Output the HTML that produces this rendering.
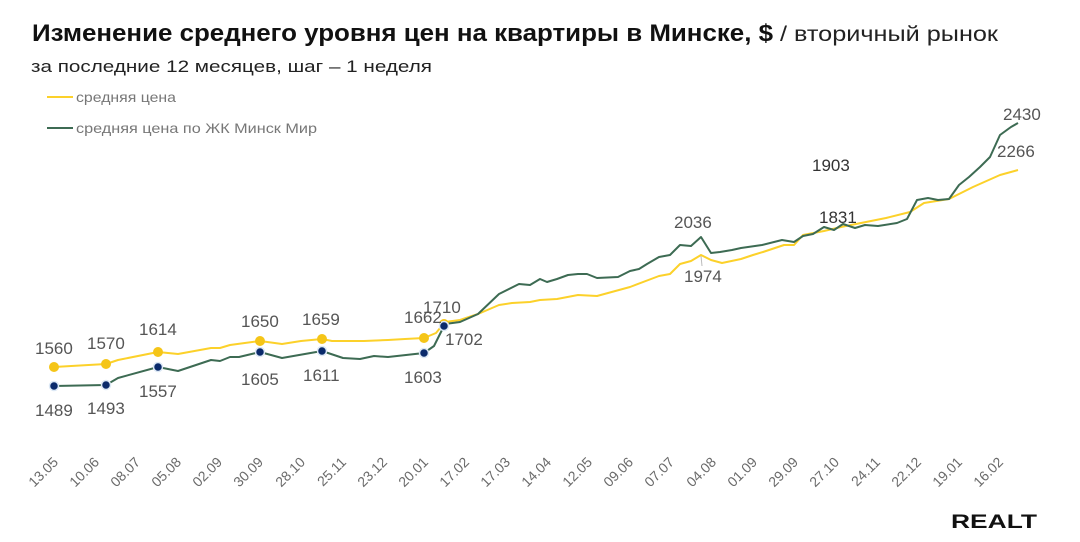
<!DOCTYPE html>
<html><head><meta charset="utf-8"><style>
html,body{margin:0;padding:0;background:#fff}
svg{display:block;font-family:"Liberation Sans","DejaVu Sans",sans-serif}
</style></head><body>
<svg width="1080" height="542" viewBox="0 0 1080 542" xmlns="http://www.w3.org/2000/svg">
<text x="32" y="41" font-size="24" font-weight="bold" fill="#111" textLength="741" lengthAdjust="spacingAndGlyphs">Изменение среднего уровня цен на квартиры в Минске, $</text>
<text x="780" y="41" font-size="21" fill="#222" textLength="218" lengthAdjust="spacingAndGlyphs">/ вторичный рынок</text>
<text x="31" y="72" font-size="17" fill="#222" textLength="401" lengthAdjust="spacingAndGlyphs">за последние 12 месяцев, шаг – 1 неделя</text>
<line x1="47" y1="97" x2="73" y2="97" stroke="#fcd12a" stroke-width="2"/>
<text x="76" y="102" font-size="14" fill="#777" textLength="100" lengthAdjust="spacingAndGlyphs">средняя цена</text>
<line x1="47" y1="128" x2="73" y2="128" stroke="#3d6b53" stroke-width="2"/>
<text x="76" y="133" font-size="14" fill="#777" textLength="241" lengthAdjust="spacingAndGlyphs">средняя цена по ЖК Минск Мир</text>

<polyline fill="none" stroke="#fcd12a" stroke-width="2" stroke-linejoin="round" points="54,367 106,364 118,360 158,352 178,354 211,348 220,348 230,345 260,341 282,344 301,341 322,339 332,341 353,341 364,341 388,340 405,339 424,338 436,333 445,322 460,320 478,314 499,305 512,303 530,302 540,300 557,299 578,295 597,296 630,287 659,276 670,274 680,264 691,261 701,255 711,260 722,263 741,259 753,255 763,252 784,245 794,245 803,235 824,231 841,227 886,218 910,212 924,203 949,199 973,187 1000,175 1018,170"/>
<polyline fill="none" stroke="#3d6b53" stroke-width="2" stroke-linejoin="round" points="54,386 106,385 118,378 158,367 178,371 211,360 220,361 230,357 239,357 260,352 282,358 322,351 343,358 360,359 374,356 388,357 424,353 434,346 445,324 460,322 478,314 499,294 519,284 530,285 540,279 547,282 557,279 568,275 578,274 587,274 597,278 618,277 630,271 639,269 647,264 659,257 670,255 680,245 691,246 701,237 711,253 720,252 732,250 741,248 762,245 782,240 794,242 803,236 813,234 824,227 834,230 843,224 855,228 865,225 878,226 897,223 907,219 917,200 928,198 938,200 949,199 959,185 969,177 980,167 990,157 1000,135 1011,127 1018,123"/>

<g stroke="#dce8f5" stroke-width="1.5">
<circle cx="54" cy="367" r="5" fill="#f5c518" stroke="none"/>
<circle cx="106" cy="364" r="5" fill="#f5c518" stroke="none"/>
<circle cx="158" cy="352" r="5" fill="#f5c518" stroke="none"/>
<circle cx="260" cy="341" r="5" fill="#f5c518" stroke="none"/>
<circle cx="322" cy="339" r="5" fill="#f5c518" stroke="none"/>
<circle cx="424" cy="338" r="5" fill="#f5c518" stroke="none"/>
<circle cx="444" cy="324" r="5" fill="#f5c518" stroke="none"/>
<circle cx="54" cy="386" r="4.5" fill="#0a2a6b"/>
<circle cx="106" cy="385" r="4.5" fill="#0a2a6b"/>
<circle cx="158" cy="367" r="4.5" fill="#0a2a6b"/>
<circle cx="260" cy="352" r="4.5" fill="#0a2a6b"/>
<circle cx="322" cy="351" r="4.5" fill="#0a2a6b"/>
<circle cx="424" cy="353" r="4.5" fill="#0a2a6b"/>
<circle cx="444" cy="326" r="4.5" fill="#0a2a6b"/>
</g>

<g font-size="17" fill="#555">
<text x="35" y="354">1560</text>
<text x="87" y="349">1570</text>
<text x="139" y="335">1614</text>
<text x="241" y="327">1650</text>
<text x="302" y="325">1659</text>
<text x="404" y="323">1662</text>
<text x="423" y="313">1710</text>
<text x="35" y="416">1489</text>
<text x="87" y="414">1493</text>
<text x="139" y="397">1557</text>
<text x="241" y="385">1605</text>
<text x="303" y="381">1611</text>
<text x="404" y="383">1603</text>
<text x="445" y="345">1702</text>
<text x="674" y="228">2036</text>
<text x="684" y="282">1974</text>
<text x="812" y="171" fill="#333">1903</text>
<text x="819" y="223" fill="#333">1831</text>
<text x="1003" y="120">2430</text>
<text x="997" y="157">2266</text>
</g>
<line x1="701" y1="256" x2="702" y2="266" stroke="#bbb" stroke-width="1"/>

<g font-size="14" fill="#6a6a6a" text-anchor="end">
<text transform="translate(59,463) rotate(-45)">13.05</text>
<text transform="translate(100,463) rotate(-45)">10.06</text>
<text transform="translate(141,463) rotate(-45)">08.07</text>
<text transform="translate(182,463) rotate(-45)">05.08</text>
<text transform="translate(223,463) rotate(-45)">02.09</text>
<text transform="translate(264,463) rotate(-45)">30.09</text>
<text transform="translate(306,463) rotate(-45)">28.10</text>
<text transform="translate(347,463) rotate(-45)">25.11</text>
<text transform="translate(388,463) rotate(-45)">23.12</text>
<text transform="translate(429,463) rotate(-45)">20.01</text>
<text transform="translate(470,463) rotate(-45)">17.02</text>
<text transform="translate(511,463) rotate(-45)">17.03</text>
<text transform="translate(552,463) rotate(-45)">14.04</text>
<text transform="translate(593,463) rotate(-45)">12.05</text>
<text transform="translate(634,463) rotate(-45)">09.06</text>
<text transform="translate(675,463) rotate(-45)">07.07</text>
<text transform="translate(717,463) rotate(-45)">04.08</text>
<text transform="translate(758,463) rotate(-45)">01.09</text>
<text transform="translate(799,463) rotate(-45)">29.09</text>
<text transform="translate(840,463) rotate(-45)">27.10</text>
<text transform="translate(881,463) rotate(-45)">24.11</text>
<text transform="translate(922,463) rotate(-45)">22.12</text>
<text transform="translate(963,463) rotate(-45)">19.01</text>
<text transform="translate(1004,463) rotate(-45)">16.02</text>
</g>
<text x="951" y="528" font-size="19" font-weight="bold" fill="#111" textLength="86" lengthAdjust="spacingAndGlyphs">REALT</text>
</svg>
</body></html>
